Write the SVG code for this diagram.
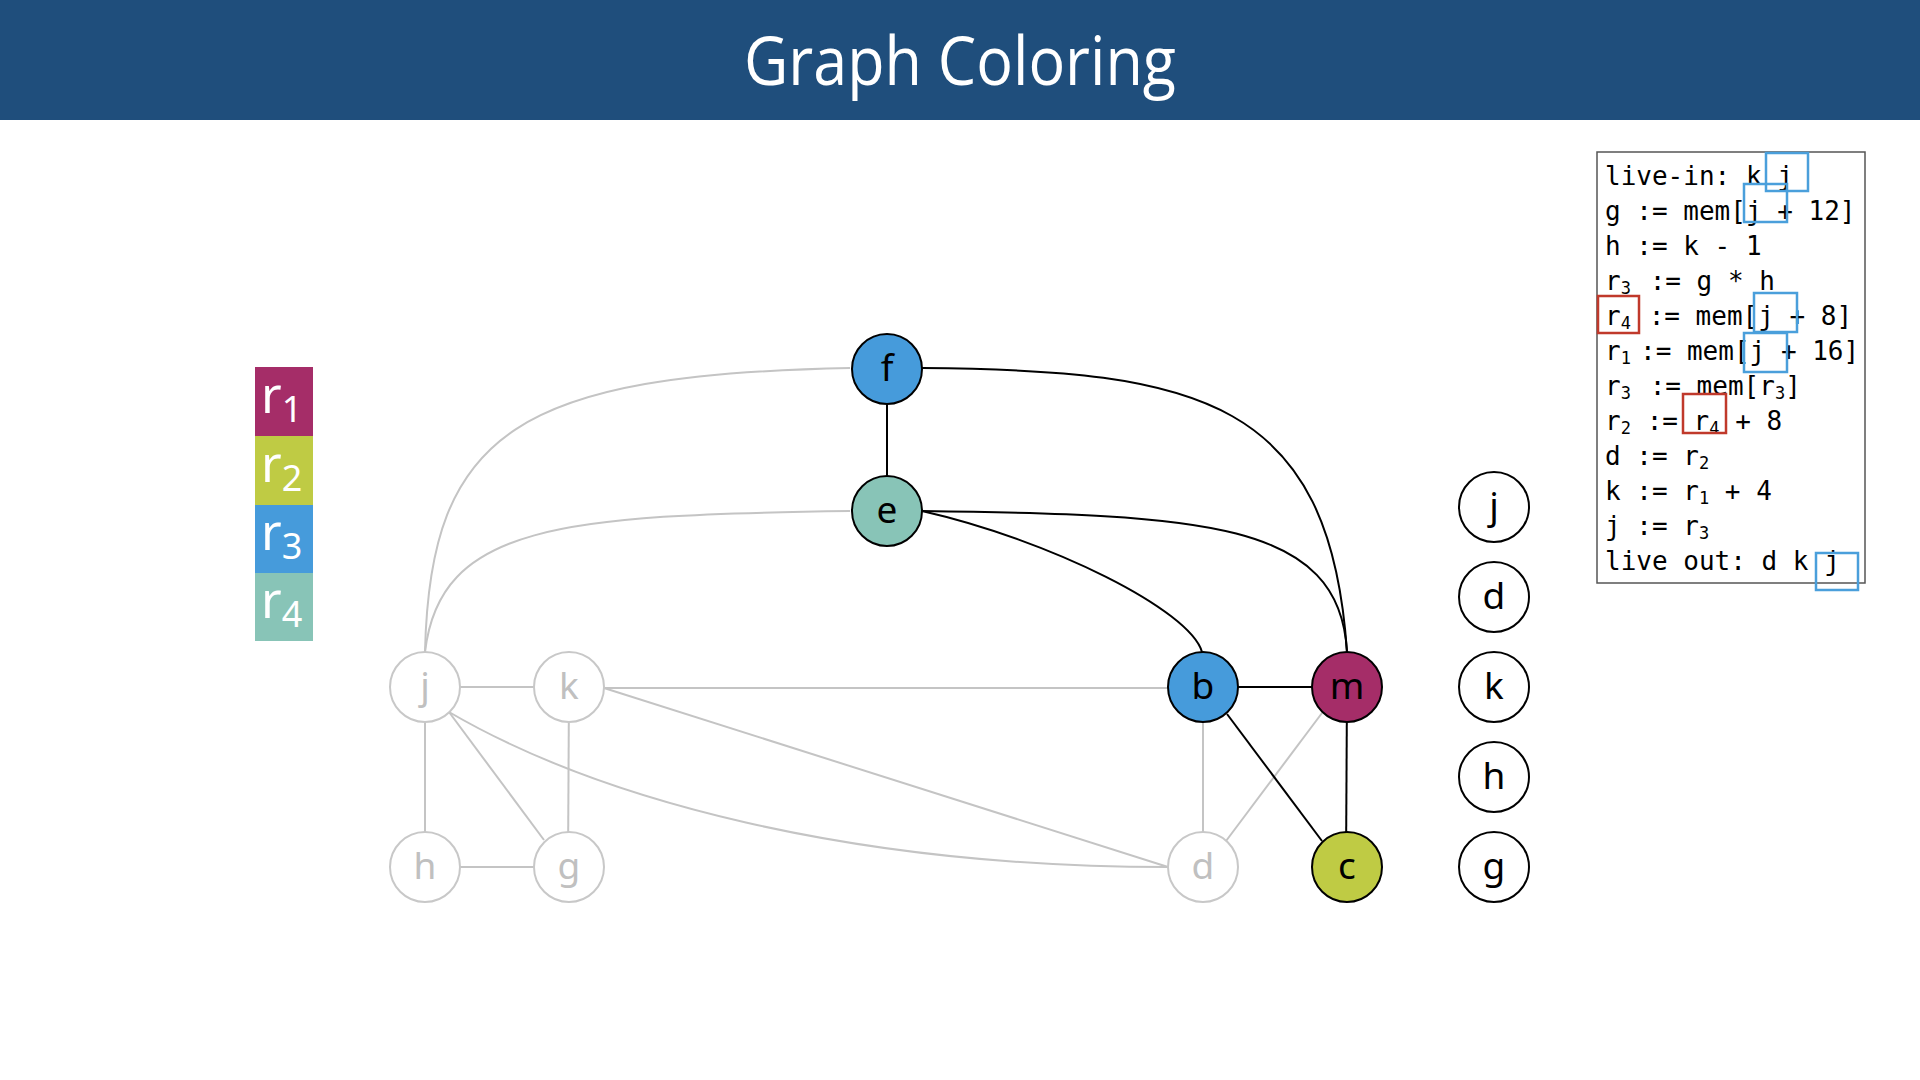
<svg xmlns="http://www.w3.org/2000/svg" width="1920" height="1080" viewBox="0 0 1920 1080">
<style>
.gl{stroke:#c4c4c4;stroke-width:2;fill:none}
.bl{stroke:#000;stroke-width:2;fill:none}
.nd circle{stroke:#000;stroke-width:2}
.gn circle{fill:#fff;stroke:#c8c8c8;stroke-width:2}
.lbl{font-family:"Noto Sans","DejaVu Sans",sans-serif;font-size:37px;text-anchor:middle;fill:#000}
.gn .lbl{fill:#c0c0c0}
.code{font-family:"DejaVu Sans Mono","Liberation Mono",monospace;font-size:26px;fill:#000}
.sub{font-size:17px}
.leg{font-family:"Noto Sans","DejaVu Sans",sans-serif;font-size:50px;fill:#fff}
.lsub{font-size:36px}
.hb{fill:none;stroke:#4a9fdb;stroke-width:2.5}
.rb{fill:none;stroke:#c0392b;stroke-width:2.5}
</style>
<rect x="0" y="0" width="1920" height="120" fill="#1f4e7c"/>
<text x="960" y="85" font-family="'Open Sans','Noto Sans',sans-serif" font-size="68" fill="#fff" text-anchor="middle" textLength="432" lengthAdjust="spacingAndGlyphs">Graph Coloring</text>

<g id="legend">
<rect x="255" y="367" width="58" height="69" fill="#a52d68"/>
<rect x="255" y="436" width="58" height="69" fill="#bfcb44"/>
<rect x="255" y="505" width="58" height="68" fill="#469bdb"/>
<rect x="255" y="573" width="58" height="68" fill="#88c4b7"/>
<text class="leg" x="261" y="413">r<tspan class="lsub" dy="9">1</tspan></text>
<text class="leg" x="261" y="482">r<tspan class="lsub" dy="9">2</tspan></text>
<text class="leg" x="261" y="550">r<tspan class="lsub" dy="9">3</tspan></text>
<text class="leg" x="261" y="618">r<tspan class="lsub" dy="9">4</tspan></text>
</g>

<g id="connectors">
<path class="gl" d="M850,368 C520,375 430,430 425,652"/>
<path class="gl" d="M850,511 C560,515 440,525 425,652"/>
<path class="gl" d="M425,687 H569"/>
<path class="gl" d="M569,688 H1203"/>
<path class="gl" d="M604,688 L1168,867"/>
<path class="gl" d="M449,712 C600,800 850,867 1168,867"/>
<path class="gl" d="M425,687 V867"/>
<path class="gl" d="M449,712 L544,840"/>
<path class="gl" d="M569,687 L568,867"/>
<path class="gl" d="M425,867 H569"/>
<path class="gl" d="M1203,687 V867"/>
<path class="gl" d="M1322,713 L1226,841"/>
<path class="bl" d="M887,369 V511"/>
<path class="bl" d="M922,368 C1200,370 1330,400 1347,652"/>
<path class="bl" d="M922,511 C1200,515 1340,520 1347,652"/>
<path class="bl" d="M922,511 C1050,540 1190,610 1202,652"/>
<path class="bl" d="M1203,687 H1347"/>
<path class="bl" d="M1227,714 L1322,841"/>
<path class="bl" d="M1347,687 L1346,867"/>
</g>

<g id="node-f" class="nd"><circle cx="887" cy="369" r="35" fill="#469bdb"/><text class="lbl" x="887" y="381">f</text></g>
<g id="node-e" class="nd"><circle cx="887" cy="511" r="35" fill="#88c4b7"/><text class="lbl" x="887" y="523">e</text></g>
<g id="node-b" class="nd"><circle cx="1203" cy="687" r="35" fill="#469bdb"/><text class="lbl" x="1203" y="699">b</text></g>
<g id="node-m" class="nd"><circle cx="1347" cy="687" r="35" fill="#a52d68"/><text class="lbl" x="1347" y="699">m</text></g>
<g id="node-c" class="nd"><circle cx="1347" cy="867" r="35" fill="#bfcb44"/><text class="lbl" x="1347" y="879">c</text></g>

<g id="node-j" class="gn"><circle cx="425" cy="687" r="35"/><text class="lbl" x="425" y="699">j</text></g>
<g id="node-k" class="gn"><circle cx="569" cy="687" r="35"/><text class="lbl" x="569" y="699">k</text></g>
<g id="node-h" class="gn"><circle cx="425" cy="867" r="35"/><text class="lbl" x="425" y="879">h</text></g>
<g id="node-g" class="gn"><circle cx="569" cy="867" r="35"/><text class="lbl" x="569" y="879">g</text></g>
<g id="node-d" class="gn"><circle cx="1203" cy="867" r="35"/><text class="lbl" x="1203" y="879">d</text></g>

<g id="stack-j" class="nd"><circle cx="1494" cy="507" r="35" fill="#fff"/><text class="lbl" x="1494" y="519">j</text></g>
<g id="stack-d" class="nd"><circle cx="1494" cy="597" r="35" fill="#fff"/><text class="lbl" x="1494" y="609">d</text></g>
<g id="stack-k" class="nd"><circle cx="1494" cy="687" r="35" fill="#fff"/><text class="lbl" x="1494" y="699">k</text></g>
<g id="stack-h" class="nd"><circle cx="1494" cy="777" r="35" fill="#fff"/><text class="lbl" x="1494" y="789">h</text></g>
<g id="stack-g" class="nd"><circle cx="1494" cy="867" r="35" fill="#fff"/><text class="lbl" x="1494" y="879">g</text></g>

<g id="code">
<rect x="1597" y="152" width="268" height="431" fill="#fff" stroke="#555" stroke-width="1.5"/>
<text class="code" x="1605" y="185">live-in: k j</text>
<text class="code" x="1605" y="220">g := mem[j + 12]</text>
<text class="code" x="1605" y="255">h := k - 1</text>
<text class="code" x="1605" y="290">r<tspan class="sub" dy="4">3</tspan><tspan x="1634" dy="-4"> := g * h</tspan></text>
<text class="code" x="1605" y="325">r<tspan class="sub" dy="4">4</tspan><tspan x="1633" dy="-4"> := mem[j + 8]</tspan></text>
<text class="code" x="1605" y="360">r<tspan class="sub" dy="4">1</tspan><tspan x="1640" dy="-4">:= mem[j + 16]</tspan></text>
<text class="code" x="1605" y="395">r<tspan class="sub" dy="4">3</tspan><tspan x="1634" dy="-4"> := mem[r</tspan><tspan class="sub" dy="4">3</tspan><tspan dy="-4">]</tspan></text>
<text class="code" x="1605" y="430">r<tspan class="sub" dy="4">2</tspan><tspan x="1631" dy="-4"> := r</tspan><tspan class="sub" dy="4">4</tspan><tspan dy="-4"> + 8</tspan></text>
<text class="code" x="1605" y="465">d := r<tspan class="sub" dy="4">2</tspan></text>
<text class="code" x="1605" y="500">k := r<tspan class="sub" dy="4">1</tspan><tspan dy="-4"> + 4</tspan></text>
<text class="code" x="1605" y="535">j := r<tspan class="sub" dy="4">3</tspan></text>
<text class="code" x="1605" y="570">live out: d k j</text>
<rect class="hb" x="1766" y="153" width="42" height="38"/>
<rect class="hb" x="1744" y="184" width="43" height="38"/>
<rect class="hb" x="1754" y="293" width="43" height="39"/>
<rect class="hb" x="1744" y="333" width="43" height="39"/>
<rect class="hb" x="1816" y="553" width="42" height="37"/>
<rect class="rb" x="1598" y="296" width="41" height="37"/>
<rect class="rb" x="1683" y="394" width="43" height="39"/>
</g>
</svg>
